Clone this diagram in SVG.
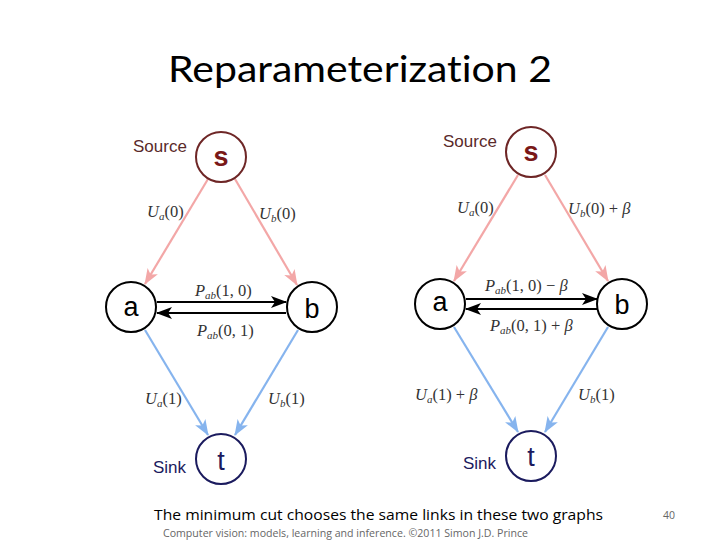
<svg xmlns="http://www.w3.org/2000/svg" width="720" height="540" viewBox="0 0 720 540">
<style>
.title{font-family:Lato,"Open Sans",sans-serif;font-size:37px;fill:#000;font-variant-ligatures:none;font-feature-settings:"liga" 0}
.cap{font-family:"Open Sans",Lato,sans-serif;font-size:15px;fill:#000}
.foot{font-family:"Open Sans",Lato,sans-serif;font-size:10.5px;fill:#666}
.side{font-family:"Liberation Sans",Arial,sans-serif;font-size:17px}
.node{font-family:"Liberation Sans",Arial,sans-serif;font-size:27px;text-anchor:middle}
.lbl{font-family:"Liberation Serif","Times New Roman",serif;font-size:16.5px;fill:#333}
.it{font-style:italic}
.sub{font-style:italic;font-size:11px}
.pink{stroke:#f3a7a7;stroke-width:2.2;fill:none}
.blue{stroke:#86b4ee;stroke-width:2.2;fill:none}
.blk{stroke:#000;stroke-width:2.2;fill:none}
.cs{fill:#fff;stroke:#6e2626;stroke-width:2}
.cn{fill:#fff;stroke:#000;stroke-width:2}
.ct{fill:#fff;stroke:#1b1b5e;stroke-width:2}
</style>
<defs>
<marker id="mp" markerUnits="userSpaceOnUse" markerWidth="16" markerHeight="12" viewBox="0 0 16 12" refX="15" refY="6" orient="auto"><path d="M0,0 L16,6 L0,12 L4,6 z" fill="#f3a7a7"/></marker>
<marker id="mb" markerUnits="userSpaceOnUse" markerWidth="16" markerHeight="12" viewBox="0 0 16 12" refX="15" refY="6" orient="auto"><path d="M0,0 L16,6 L0,12 L4,6 z" fill="#86b4ee"/></marker>
<marker id="mk" markerUnits="userSpaceOnUse" markerWidth="16" markerHeight="12" viewBox="0 0 16 12" refX="15" refY="6" orient="auto"><path d="M0,0 L16,6 L0,12 L4,6 z" fill="#000"/></marker>
</defs>
<rect width="720" height="540" fill="#fff"/>
<text class="title" x="360" y="82" text-anchor="middle" textLength="384" lengthAdjust="spacingAndGlyphs">Reparameterization 2</text>

<g id="connectors">
<line class="pink" x1="208" y1="179" x2="145" y2="284" marker-end="url(#mp)"/>
<line class="pink" x1="235" y1="179" x2="297" y2="285" marker-end="url(#mp)"/>
<line class="blk" x1="157" y1="302" x2="286" y2="302" marker-end="url(#mk)"/>
<line class="blk" x1="286" y1="313" x2="157" y2="313" marker-end="url(#mk)"/>
<line class="blue" x1="145" y1="330" x2="208" y2="435" marker-end="url(#mb)"/>
<line class="blue" x1="298" y1="330" x2="235" y2="435" marker-end="url(#mb)"/>
<line class="pink" x1="518" y1="175" x2="454" y2="281" marker-end="url(#mp)"/>
<line class="pink" x1="545" y1="175" x2="608" y2="281" marker-end="url(#mp)"/>
<line class="blk" x1="466" y1="299" x2="597" y2="299" marker-end="url(#mk)"/>
<line class="blk" x1="597" y1="309" x2="466" y2="309" marker-end="url(#mk)"/>
<line class="blue" x1="454" y1="327" x2="518" y2="432" marker-end="url(#mb)"/>
<line class="blue" x1="608" y1="327" x2="545" y2="432" marker-end="url(#mb)"/>
</g>

<g id="edge-labels">
<text class="lbl" x="147" y="217"><tspan class="it">U</tspan><tspan class="sub" dy="3">a</tspan><tspan dy="-3">(0)</tspan></text>
<text class="lbl" x="259" y="219"><tspan class="it">U</tspan><tspan class="sub" dy="3">b</tspan><tspan dy="-3">(0)</tspan></text>
<text class="lbl" x="195" y="296"><tspan class="it">P</tspan><tspan class="sub" dy="3">ab</tspan><tspan dy="-3">(1, 0)</tspan></text>
<text class="lbl" x="197" y="336"><tspan class="it">P</tspan><tspan class="sub" dy="3">ab</tspan><tspan dy="-3">(0, 1)</tspan></text>
<text class="lbl" x="145" y="404"><tspan class="it">U</tspan><tspan class="sub" dy="3">a</tspan><tspan dy="-3">(1)</tspan></text>
<text class="lbl" x="268" y="404"><tspan class="it">U</tspan><tspan class="sub" dy="3">b</tspan><tspan dy="-3">(1)</tspan></text>

<text class="lbl" x="457" y="213"><tspan class="it">U</tspan><tspan class="sub" dy="3">a</tspan><tspan dy="-3">(0)</tspan></text>
<text class="lbl" x="568" y="214"><tspan class="it">U</tspan><tspan class="sub" dy="3">b</tspan><tspan dy="-3">(0) + </tspan><tspan class="it">β</tspan></text>
<text class="lbl" x="485" y="291"><tspan class="it">P</tspan><tspan class="sub" dy="3">ab</tspan><tspan dy="-3">(1, 0) − </tspan><tspan class="it">β</tspan></text>
<text class="lbl" x="490" y="331"><tspan class="it">P</tspan><tspan class="sub" dy="3">ab</tspan><tspan dy="-3">(0, 1) + </tspan><tspan class="it">β</tspan></text>
<text class="lbl" x="415" y="400"><tspan class="it">U</tspan><tspan class="sub" dy="3">a</tspan><tspan dy="-3">(1) + </tspan><tspan class="it">β</tspan></text>
<text class="lbl" x="578" y="400"><tspan class="it">U</tspan><tspan class="sub" dy="3">b</tspan><tspan dy="-3">(1)</tspan></text>
</g>

<g id="s-left"><circle class="cs" cx="221" cy="157" r="25"/><text class="node" x="221" y="166" fill="#7a1818" font-weight="bold">s</text><text class="side" x="133" y="152" fill="#5a2a2a">Source</text></g>
<g id="a-left"><circle class="cn" cx="131" cy="307" r="25"/><text class="node" x="131" y="316">a</text></g>
<g id="b-left"><circle class="cn" cx="312" cy="307" r="25"/><text class="node" x="312" y="318">b</text></g>
<g id="t-left"><circle class="ct" cx="221" cy="459" r="25"/><text class="node" x="221" y="470" fill="#1b1b5e">t</text><text class="side" x="153" y="473" fill="#1b1b5e">Sink</text></g>

<g id="s-right"><circle class="cs" cx="531" cy="152" r="25"/><text class="node" x="531" y="161" fill="#7a1818" font-weight="bold">s</text><text class="side" x="443" y="147" fill="#5a2a2a">Source</text></g>
<g id="a-right"><circle class="cn" cx="440" cy="304" r="25"/><text class="node" x="440" y="311">a</text></g>
<g id="b-right"><circle class="cn" cx="622" cy="304" r="25"/><text class="node" x="622" y="314">b</text></g>
<g id="t-right"><circle class="ct" cx="531" cy="456" r="25"/><text class="node" x="531" y="466" fill="#1b1b5e">t</text><text class="side" x="463" y="469" fill="#1b1b5e">Sink</text></g>

<text class="cap" x="154" y="520" textLength="449" lengthAdjust="spacingAndGlyphs">The minimum cut chooses the same links in these two graphs</text>
<text class="foot" x="163" y="537" textLength="365" lengthAdjust="spacingAndGlyphs">Computer vision: models, learning and inference.  ©2011 Simon J.D. Prince</text>
<text class="foot" x="663" y="519">40</text>
</svg>
